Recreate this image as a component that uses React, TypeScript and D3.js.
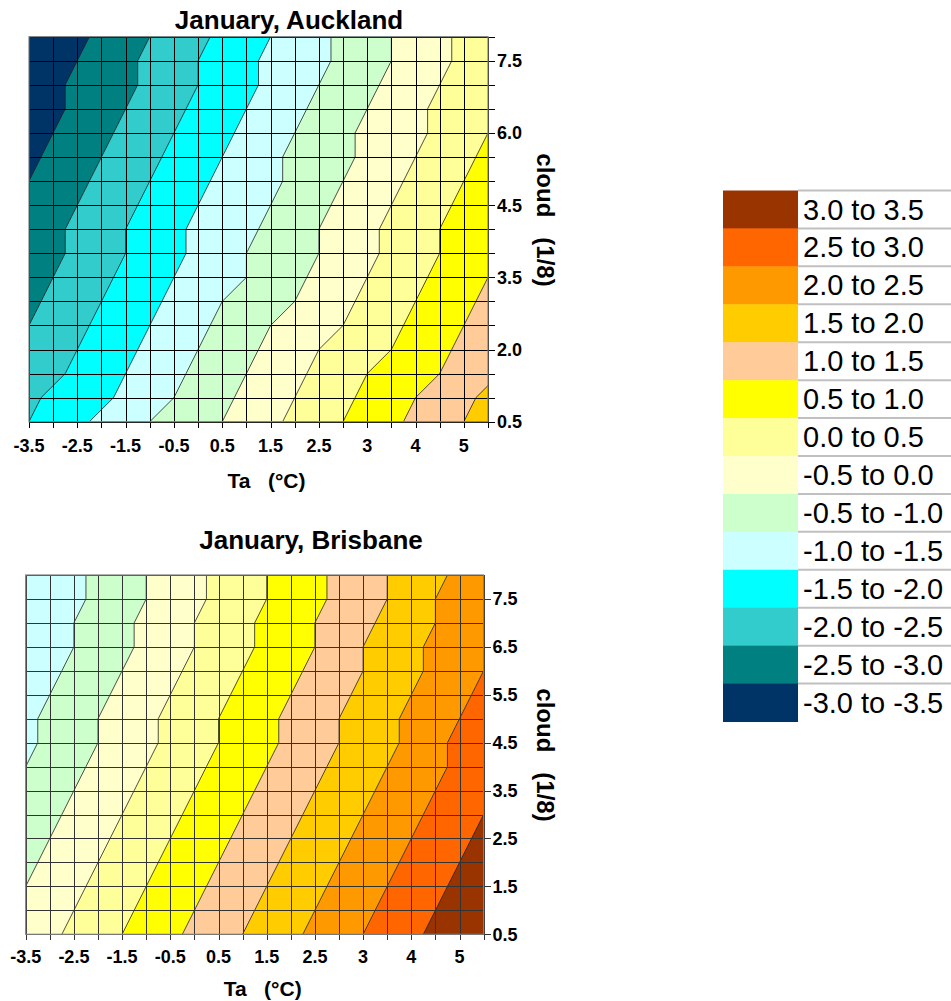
import React from "react"
import * as d3 from "d3"

// band edges (low value of each legend band), ascending
const bandLows = [-3.5, -3.0, -2.5, -2.0, -1.5, -1.0, -0.5, 0.0, 0.5, 1.0, 1.5, 2.0, 2.5, 3.0]
const bandColors = [
	"#003366", "#008080", "#33CCCC", "#00FFFF", "#CCFFFF", "#CCFFCC", "#FFFFCC",
	"#FFFF99", "#FFFF00", "#FFCC99", "#FFCC00", "#FF9900", "#FF6600", "#993300",
]
// legend rows, top to bottom
const legendLabels = [
	"3.0 to 3.5", "2.5 to 3.0", "2.0 to 2.5", "1.5 to 2.0", "1.0 to 1.5", "0.5 to 1.0", "0.0 to 0.5",
	"-0.5 to 0.0", "-0.5 to -1.0", "-1.0 to -1.5", "-1.5 to -2.0", "-2.0 to -2.5", "-2.5 to -3.0", "-3.0 to -3.5",
]

// Ta categories: a label on every second column
const taLabels = ["-3.5", "-2.5", "-1.5", "-0.5", "0.5", "1.5", "2.5", "3", "4", "5"]
const aucklandCloudLabels = ["0.5", "2.0", "3.5", "4.5", "6.0", "7.5"]
const brisbaneCloudLabels = ["0.5", "1.5", "2.5", "3.5", "4.5", "5.5", "6.5", "7.5"]

// grid values, first row = lowest cloud, 20 Ta columns per row
const aucklandGrid = [
	[-2.0, -1.8, -1.6, -1.4, -1.2, -1.0, -0.8, -0.6, -0.5, -0.3, -0.1, 0.1, 0.3, 0.5, 0.7, 0.9, 1.1, 1.3, 1.5, 1.7],
	[-2.1, -1.9, -1.8, -1.6, -1.4, -1.2, -1.0, -0.8, -0.6, -0.4, -0.2, 0.0, 0.2, 0.4, 0.6, 0.8, 1.0, 1.2, 1.4, 1.6],
	[-2.3, -2.1, -1.9, -1.7, -1.5, -1.3, -1.1, -0.9, -0.7, -0.5, -0.3, -0.1, 0.1, 0.3, 0.5, 0.7, 0.9, 1.0, 1.2, 1.4],
	[-2.4, -2.2, -2.0, -1.8, -1.6, -1.4, -1.2, -1.0, -0.8, -0.6, -0.4, -0.2, 0.0, 0.2, 0.4, 0.5, 0.7, 0.9, 1.1, 1.3],
	[-2.5, -2.3, -2.1, -1.9, -1.7, -1.5, -1.3, -1.1, -0.9, -0.7, -0.5, -0.3, -0.2, 0.0, 0.2, 0.4, 0.6, 0.8, 1.0, 1.2],
	[-2.6, -2.4, -2.2, -2.0, -1.8, -1.6, -1.4, -1.2, -1.0, -0.9, -0.7, -0.5, -0.3, -0.1, 0.1, 0.3, 0.5, 0.7, 0.9, 1.1],
	[-2.7, -2.5, -2.3, -2.1, -1.9, -1.7, -1.5, -1.3, -1.2, -1.0, -0.8, -0.6, -0.4, -0.2, 0.0, 0.2, 0.4, 0.6, 0.8, 1.0],
	[-2.8, -2.6, -2.4, -2.2, -2.0, -1.8, -1.6, -1.4, -1.2, -1.0, -0.9, -0.7, -0.5, -0.3, -0.1, 0.1, 0.3, 0.5, 0.7, 0.9],
	[-2.8, -2.6, -2.4, -2.2, -2.0, -1.8, -1.6, -1.4, -1.3, -1.1, -0.9, -0.7, -0.5, -0.3, -0.1, 0.1, 0.3, 0.5, 0.7, 0.9],
	[-2.9, -2.7, -2.5, -2.3, -2.1, -1.9, -1.7, -1.5, -1.3, -1.2, -1.0, -0.8, -0.6, -0.4, -0.2, 0.0, 0.2, 0.4, 0.6, 0.8],
	[-3.0, -2.8, -2.6, -2.4, -2.2, -2.0, -1.8, -1.6, -1.4, -1.3, -1.1, -0.9, -0.7, -0.5, -0.3, -0.1, 0.1, 0.3, 0.5, 0.7],
	[-3.1, -2.9, -2.7, -2.5, -2.3, -2.1, -1.9, -1.7, -1.5, -1.3, -1.1, -0.9, -0.7, -0.6, -0.4, -0.2, 0.0, 0.2, 0.4, 0.6],
	[-3.2, -3.0, -2.8, -2.6, -2.4, -2.2, -2.0, -1.8, -1.6, -1.4, -1.2, -1.0, -0.8, -0.6, -0.4, -0.2, -0.1, 0.1, 0.3, 0.5],
	[-3.3, -3.1, -2.9, -2.7, -2.5, -2.3, -2.1, -1.9, -1.7, -1.5, -1.3, -1.1, -0.9, -0.7, -0.5, -0.3, -0.1, 0.1, 0.3, 0.4],
	[-3.3, -3.1, -2.9, -2.8, -2.6, -2.4, -2.2, -2.0, -1.8, -1.6, -1.4, -1.2, -1.0, -0.8, -0.6, -0.4, -0.2, 0.0, 0.2, 0.4],
	[-3.4, -3.2, -3.0, -2.8, -2.6, -2.4, -2.2, -2.0, -1.8, -1.6, -1.4, -1.3, -1.1, -0.9, -0.7, -0.5, -0.3, -0.1, 0.1, 0.3],
	[-3.5, -3.3, -3.1, -2.9, -2.7, -2.5, -2.3, -2.1, -1.9, -1.7, -1.5, -1.3, -1.1, -0.9, -0.7, -0.5, -0.3, -0.1, 0.1, 0.3],
]

const brisbaneGrid = [
	[-0.3, -0.1, 0.1, 0.3, 0.5, 0.7, 0.9, 1.1, 1.3, 1.5, 1.7, 1.9, 2.1, 2.3, 2.5, 2.7, 2.9, 3.1, 3.3, 3.5],
	[-0.4, -0.2, 0.0, 0.2, 0.4, 0.6, 0.8, 1.0, 1.2, 1.4, 1.6, 1.8, 2.0, 2.2, 2.4, 2.6, 2.8, 3.0, 3.2, 3.4],
	[-0.5, -0.3, -0.1, 0.1, 0.3, 0.5, 0.7, 0.9, 1.1, 1.3, 1.5, 1.7, 1.9, 2.1, 2.3, 2.5, 2.7, 2.9, 3.1, 3.3],
	[-0.6, -0.4, -0.2, 0.0, 0.2, 0.4, 0.6, 0.8, 1.0, 1.2, 1.4, 1.6, 1.8, 2.0, 2.2, 2.4, 2.6, 2.8, 3.0, 3.2],
	[-0.7, -0.5, -0.3, -0.1, 0.1, 0.3, 0.5, 0.7, 0.9, 1.1, 1.3, 1.5, 1.7, 1.9, 2.1, 2.3, 2.5, 2.7, 2.9, 3.1],
	[-0.8, -0.6, -0.4, -0.2, 0.0, 0.2, 0.4, 0.6, 0.8, 1.0, 1.2, 1.4, 1.6, 1.8, 2.0, 2.2, 2.4, 2.6, 2.8, 3.0],
	[-0.9, -0.7, -0.5, -0.3, -0.1, 0.1, 0.3, 0.5, 0.7, 0.9, 1.1, 1.3, 1.5, 1.7, 1.9, 2.1, 2.3, 2.5, 2.7, 2.9],
	[-1.0, -0.8, -0.6, -0.4, -0.2, 0.0, 0.2, 0.4, 0.6, 0.8, 1.0, 1.2, 1.4, 1.6, 1.8, 2.0, 2.2, 2.4, 2.6, 2.8],
	[-1.1, -0.9, -0.7, -0.5, -0.3, -0.1, 0.1, 0.3, 0.5, 0.7, 0.9, 1.1, 1.3, 1.5, 1.7, 1.9, 2.1, 2.4, 2.6, 2.8],
	[-1.1, -0.9, -0.7, -0.5, -0.3, -0.1, 0.1, 0.3, 0.5, 0.7, 0.9, 1.1, 1.3, 1.5, 1.7, 1.9, 2.1, 2.3, 2.5, 2.7],
	[-1.2, -1.0, -0.8, -0.6, -0.4, -0.2, 0.0, 0.2, 0.4, 0.6, 0.8, 1.0, 1.2, 1.4, 1.6, 1.8, 2.0, 2.2, 2.4, 2.6],
	[-1.3, -1.1, -0.9, -0.7, -0.5, -0.3, -0.1, 0.1, 0.3, 0.5, 0.7, 0.9, 1.1, 1.3, 1.5, 1.7, 1.9, 2.1, 2.3, 2.5],
	[-1.4, -1.2, -1.0, -0.8, -0.6, -0.4, -0.2, 0.0, 0.2, 0.4, 0.6, 0.8, 1.0, 1.3, 1.5, 1.7, 1.9, 2.1, 2.3, 2.4],
	[-1.4, -1.2, -1.0, -0.8, -0.6, -0.4, -0.2, 0.0, 0.2, 0.4, 0.6, 0.8, 1.0, 1.2, 1.4, 1.6, 1.8, 2.0, 2.2, 2.4],
	[-1.5, -1.3, -1.1, -0.9, -0.7, -0.5, -0.3, -0.1, 0.1, 0.3, 0.5, 0.7, 0.9, 1.1, 1.3, 1.5, 1.8, 2.0, 2.2, 2.4],
	[-1.5, -1.3, -1.1, -0.9, -0.7, -0.5, -0.3, -0.1, 0.1, 0.3, 0.5, 0.7, 0.9, 1.1, 1.3, 1.5, 1.7, 1.9, 2.1, 2.3],
]

const FONT = "Arial, 'Liberation Sans', Helvetica, sans-serif"

type ContourProps = {
	id: string
	grid: number[][]
	title: string
	titleX: number
	titleY: number
	cloudLabels: string[]
	cloudEvery: number
	box: { left: number; right: number; top: number; bottom: number }
	allRowTicks: boolean
	gridColor: string
	tickY: number
	taTitleY: number
	cloudTitleY: number
}

const ContourPanel = ({
	id, grid, title, titleX, titleY, cloudLabels, cloudEvery, box,
	allRowTicks, gridColor, tickY, taTitleY, cloudTitleY,
}: ContourProps) => {
	const nx = grid[0].length
	const ny = grid.length
	// d3.contours wants the top row first
	const values = grid.slice().reverse().flat()

	const x = d3.scaleLinear().domain([0, nx - 1]).range([box.left, box.right])
	const yTop = d3.scaleLinear().domain([0, ny - 1]).range([box.top, box.bottom])
	const y = d3.scaleLinear().domain([0, ny - 1]).range([box.bottom, box.top])

	const contours = d3.contours().size([nx, ny]).thresholds(bandLows)(values)
	// sample i sits at i + 0.5 in contour space
	const path = d3.geoPath(
		d3.geoTransform({
			point(px: number, py: number) {
				this.stream.point(x(px - 0.5), yTop(py - 0.5))
			},
		})
	)

	const crisp = (v: number) => Math.round(v) + 0.5
	const textStyle = { fontFamily: FONT, fontWeight: "bold" as const }

	return (
		<g>
			<text x={titleX} y={titleY} textAnchor="middle" fontSize={26} fill="#000" style={textStyle}>
				{title}
			</text>
			<defs>
				<clipPath id={`clip-${id}`}>
					<rect x={box.left} y={box.top} width={box.right - box.left} height={box.bottom - box.top} />
				</clipPath>
			</defs>
			<g clipPath={`url(#clip-${id})`}>
				{contours.map((c, i) => (
					<path
						key={i}
						d={path(c as any) || ""}
						fill={bandColors[bandLows.indexOf(c.value)]}
						stroke="#222"
						strokeWidth={0.8}
					/>
				))}
			</g>
			{/* grid + ticks */}
			<g stroke={gridColor} strokeWidth={1} shapeRendering="crispEdges">
				{d3.range(nx).map((i) => (
					<line key={`v${i}`} x1={crisp(x(i))} x2={crisp(x(i))} y1={box.top} y2={box.bottom + 6} />
				))}
				{d3.range(ny).map((j) => {
					const labelled = j % cloudEvery === 0
					return (
						<line
							key={`h${j}`}
							x1={box.left}
							x2={allRowTicks || labelled ? box.right + 7 : box.right}
							y1={crisp(y(j))}
							y2={crisp(y(j))}
						/>
					)
				})}
			</g>
			<rect
				x={box.left}
				y={box.top}
				width={box.right - box.left}
				height={box.bottom - box.top}
				fill="none"
				stroke="#808080"
				strokeWidth={1.2}
			/>
			{/* Ta tick labels */}
			{taLabels.map((t, k) => (
				<text key={t} x={x(k * 2)} y={tickY} textAnchor="middle" fontSize={18} style={textStyle}>
					{t}
				</text>
			))}
			{/* cloud tick labels */}
			{cloudLabels.map((t, k) => (
				<text key={t + k} x={box.right + 9} y={y(k * cloudEvery)} dy="0.36em" fontSize={18} style={textStyle}>
					{t}
				</text>
			))}
			<text
				x={(box.left + box.right) / 2 + 8}
				y={taTitleY}
				textAnchor="middle"
				fontSize={21}
				style={{ ...textStyle, whiteSpace: "pre" }}
			>
				{"Ta   (°C)"}
			</text>
			<text
				transform={`translate(545, ${cloudTitleY}) rotate(90)`}
				textAnchor="middle"
				dy="0.35em"
				fontSize={24}
				style={{ ...textStyle, whiteSpace: "pre" }}
			>
				{"cloud   (1/8)"}
			</text>
		</g>
	)
}

const Legend = () => {
	const left = 723
	const swatchW = 75
	const top = 190.5
	const rowH = 37.93
	return (
		<g>
			{legendLabels.map((label, i) => {
				const y0 = top + i * rowH
				return (
					<g key={label}>
						<rect x={left} y={y0} width={swatchW} height={rowH + 0.5} fill={bandColors[bandColors.length - 1 - i]} />
						<line x1={left + swatchW} x2={951} y1={y0} y2={y0} stroke="#C0C0C0" strokeWidth={2} />
						<text x={left + swatchW + 5} y={y0 + 29} fontSize={29} fontFamily={FONT} fill="#000">
							{label}
						</text>
					</g>
				)
			})}
		</g>
	)
}

export default function App() {
	return (
		<svg
			width={951}
			height={1001}
			viewBox="0 0 951 1001"
			style={{ position: "absolute", left: 0, top: 0, background: "#fff" }}
		>
			<rect width={951} height={1001} fill="#fff" />
			<ContourPanel
				id="akl"
				grid={aucklandGrid}
				title="January, Auckland"
				titleX={289}
				titleY={29}
				cloudLabels={aucklandCloudLabels}
				cloudEvery={3}
				box={{ left: 29, right: 488, top: 36.7, bottom: 421.7 }}
				allRowTicks={true}
				gridColor="#000"
				tickY={452}
				taTitleY={488}
				cloudTitleY={220}
			/>
			<ContourPanel
				id="bne"
				grid={brisbaneGrid}
				title="January, Brisbane"
				titleX={311}
				titleY={549}
				cloudLabels={brisbaneCloudLabels}
				cloudEvery={2}
				box={{ left: 25.7, right: 483.6, top: 575, bottom: 934.3 }}
				allRowTicks={false}
				gridColor="#333"
				tickY={963}
				taTitleY={996}
				cloudTitleY={755}
			/>
			<Legend />
		</svg>
	)
}
